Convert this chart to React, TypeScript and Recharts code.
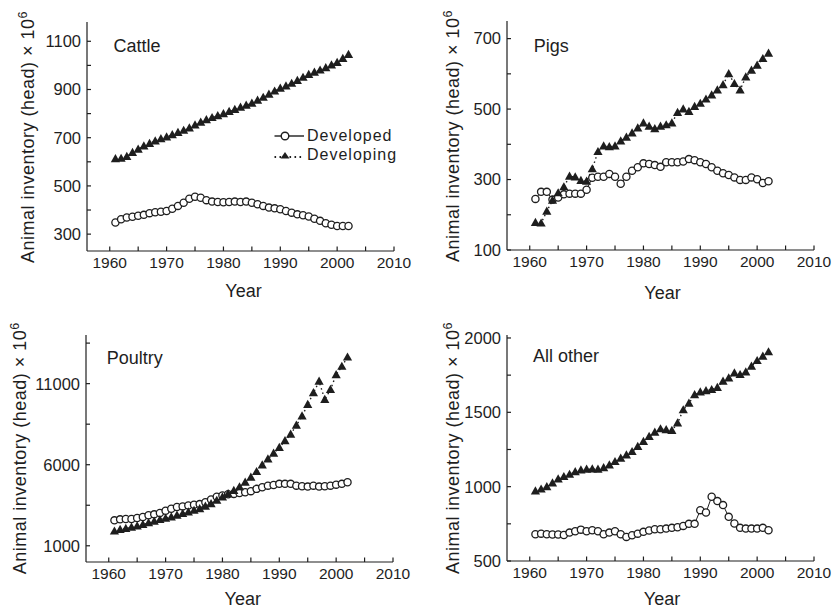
import React from 'react';
import { LineChart, Line, XAxis, YAxis, Label, Legend } from 'recharts';

// ---------- data ----------
const years = [
  1961, 1962, 1963, 1964, 1965, 1966, 1967, 1968, 1969, 1970,
  1971, 1972, 1973, 1974, 1975, 1976, 1977, 1978, 1979, 1980,
  1981, 1982, 1983, 1984, 1985, 1986, 1987, 1988, 1989, 1990,
  1991, 1992, 1993, 1994, 1995, 1996, 1997, 1998, 1999, 2000,
  2001, 2002,
];

const cattleDeveloped = [
  348, 362, 369, 372, 376, 380, 387, 391, 393, 396,
  405, 417, 430, 447, 455, 451, 441, 435, 433, 432,
  433, 435, 433, 435, 430, 424, 417, 410, 407, 403,
  396, 389, 382, 378, 373, 364, 355, 345, 339, 334,
  334, 334,
];
const cattleDeveloping = [
  612, 614, 622, 638, 652, 665, 676, 686, 695, 703,
  712, 721, 730, 740, 752, 764, 774, 783, 791, 799,
  808, 817, 826, 834, 843, 855, 867, 880, 893, 905,
  914, 925, 937, 950, 962, 971, 980, 990, 1001, 1012,
  1028, 1045,
];

const pigsDeveloped = [
  245, 265, 265, 243, 249, 258, 260, 260, 260, 271,
  305, 308, 308, 316, 308, 288, 308, 325, 335, 346,
  344, 341, 336, 349, 349, 349, 351, 358, 355, 349,
  344, 335, 325, 318, 313, 306, 299, 299, 306, 301,
  290, 295,
];
const pigsDeveloping = [
  178, 176, 210, 241, 262, 279, 309, 307, 297, 295,
  330, 379, 395, 393, 395, 409, 420, 432, 446, 460,
  451, 444, 451, 455, 460, 490, 500, 493, 507, 516,
  528, 540, 554, 569, 600, 572, 554, 591, 610, 624,
  643, 658,
];

const poultryDeveloped = [
  2570, 2630, 2650, 2650, 2710, 2775, 2880, 2940, 3020, 3160,
  3285, 3390, 3430, 3490, 3530, 3570, 3690, 3860, 4020, 4100,
  4180, 4200, 4260, 4300, 4370, 4510, 4610, 4710, 4750, 4820,
  4820, 4820, 4710, 4670, 4650, 4710, 4650, 4670, 4710, 4770,
  4820, 4920,
];
const poultryDeveloping = [
  1900, 2000, 2060, 2140, 2220, 2305, 2407, 2510, 2610, 2690,
  2775, 2880, 2980, 3080, 3180, 3285, 3430, 3590, 3795, 4000,
  4200, 4410, 4630, 4920, 5225, 5570, 5980, 6350, 6700, 7060,
  7470, 7880, 8430, 9000, 9710, 10430, 11140, 10020, 10630, 11550,
  12060, 12630,
];

const otherDeveloped = [
  680, 684, 680, 678, 678, 675, 691, 700, 711, 700,
  707, 700, 680, 691, 700, 680, 662, 673, 684, 696,
  705, 714, 714, 718, 723, 727, 736, 750, 750, 842,
  826, 932, 903, 876, 797, 752, 723, 718, 718, 718,
  723, 707,
];
const otherDeveloping = [
  970, 983, 999, 1024, 1051, 1067, 1082, 1100, 1112, 1116,
  1118, 1116, 1127, 1145, 1168, 1190, 1213, 1235, 1269, 1303,
  1337, 1366, 1388, 1382, 1377, 1427, 1516, 1561, 1618, 1636,
  1645, 1652, 1667, 1708, 1730, 1764, 1753, 1771, 1809, 1847,
  1876, 1906,
];

const seriesNames = ['Developed', 'Developing'];
const panelTitles = ['Cattle', 'Pigs', 'Poultry', 'All other'];
const xAxisTitle = 'Year';
const yAxisTitle = 'Animal inventory (head) \u00d7 10';
const yAxisTitleExp = '6';

const xTicks = [1960, 1965, 1970, 1975, 1980, 1985, 1990, 1995, 2000, 2005, 2010];
const xTickLabels = [1960, 1970, 1980, 1990, 2000, 2010];

const cattleYTicks = [300, 400, 500, 600, 700, 800, 900, 1000, 1100];
const cattleYLabels = [300, 500, 700, 900, 1100];
const pigsYTicks = [100, 200, 300, 400, 500, 600, 700];
const pigsYLabels = [100, 300, 500, 700];
const poultryYTicks = [1000, 3500, 6000, 8500, 11000, 13500];
const poultryYLabels = [1000, 6000, 11000];
const otherYTicks = [500, 750, 1000, 1250, 1500, 1750, 2000];
const otherYLabels = [500, 1000, 1500, 2000];

// ---------- layout / style ----------
const FONT = '"Liberation Sans", Arial, Helvetica, sans-serif';
const INK = '#1e1e1e';
const W = 417;
const H = 306;

const build = (dev: number[], devg: number[]) =>
  years.map((y, i) => ({ year: y, developed: dev[i], developing: devg[i] }));

const panels = [
  {
    title: panelTitles[0], left: 0, top: 0,
    plot: { l: 87, t: 22, r: 394, b: 251 },
    yDomain: [230, 1180], yTicks: cattleYTicks, yLabels: cattleYLabels,
    data: build(cattleDeveloped, cattleDeveloping),
    yLabelX: 33.5, yLabelY: 137, titleX: 113.5, titleY: 52, yearX: 243.5, yearY: 297,
    legend: true,
  },
  {
    title: panelTitles[1], left: 417, top: 0,
    plot: { l: 90, t: 21, r: 397, b: 250 },
    yDomain: [100, 750], yTicks: pigsYTicks, yLabels: pigsYLabels,
    data: build(pigsDeveloped, pigsDeveloping),
    yLabelX: 41.7, yLabelY: 136, titleX: 116.7, titleY: 51.5, yearX: 245.5, yearY: 298.5,
    legend: false,
  },
  {
    title: panelTitles[2], left: 0, top: 306,
    plot: { l: 86, t: 29, r: 393, b: 256 },
    yDomain: [0, 14000], yTicks: poultryYTicks, yLabels: poultryYLabels,
    data: build(poultryDeveloped, poultryDeveloping),
    yLabelX: 26, yLabelY: 142.3, titleX: 106.7, titleY: 58, yearX: 242.8, yearY: 299,
    legend: false,
  },
  {
    title: panelTitles[3], left: 417, top: 306,
    plot: { l: 90, t: 29, r: 397, b: 255 },
    yDomain: [500, 2020], yTicks: otherYTicks, yLabels: otherYLabels,
    data: build(otherDeveloped, otherDeveloping),
    yLabelX: 41.7, yLabelY: 142, titleX: 116, titleY: 56.2, yearX: 245, yearY: 299,
    legend: false,
  },
];

const XTick = (props: any) => {
  const { x, y, payload } = props;
  const v = payload.value;
  const show = xTickLabels.includes(v);
  return (
    <g>
      <line x1={x} x2={x} y1={y} y2={y - 4.5} stroke={INK} strokeWidth={1.2} />
      {show && (
        <text x={x} y={y + 6} dy="0.71em" textAnchor="middle" fontSize={15.5} fontFamily={FONT} fill={INK}>
          {v}
        </text>
      )}
    </g>
  );
};

const makeYTick = (labels: number[]) => (props: any) => {
  const { x, y, payload } = props;
  const v = payload.value;
  const show = labels.includes(v);
  return (
    <g>
      <line x1={x} x2={x + 4} y1={y} y2={y} stroke={INK} strokeWidth={1.2} />
      {show && (
        <text x={x - 6} y={y} dy="0.355em" textAnchor="end" fontSize={16.5} fontFamily={FONT} fill={INK}>
          {v}
        </text>
      )}
    </g>
  );
};

const TriangleDot = (props: any) => {
  const { cx, cy, index } = props;
  if (cx == null || cy == null) return null;
  return (
    <polygon
      key={`t-${index}`}
      points={`${cx},${cy - 4.8} ${cx + 4.6},${cy + 3.4} ${cx - 4.6},${cy + 3.4}`}
      fill={INK}
    />
  );
};

const LegendContent = () => (
  <div style={{ fontFamily: FONT, fontSize: 16, letterSpacing: 1, color: INK, lineHeight: '18.5px' }}>
    {seriesNames.map((name, i) => (
      <div key={name} style={{ display: 'flex', alignItems: 'center', height: 18.5 }}>
        <svg width={33} height={14} style={{ display: 'block', flex: 'none' }}>
          {i === 0 ? (
            <>
              <line x1={0.5} x2={30} y1={7} y2={7} stroke={INK} strokeWidth={1.4} />
              <circle cx={11} cy={7} r={3.8} fill="#fff" stroke={INK} strokeWidth={1.4} />
            </>
          ) : (
            <>
              <line x1={0.5} x2={30} y1={9} y2={9} stroke={INK} strokeWidth={1.8} strokeDasharray="1.6 3.4" />
              <polygon points="11,4 15.5,10.6 6.5,10.6" fill={INK} />
            </>
          )}
        </svg>
        <span>{name}</span>
      </div>
    ))}
  </div>
);

const Panel = ({ p }: { p: any }) => {
  const margin = { top: p.plot.t, right: W - p.plot.r, left: 0, bottom: 0 };
  const YTick = makeYTick(p.yLabels);
  return (
    <div style={{ position: 'absolute', left: p.left, top: p.top, width: W, height: H }}>
      <LineChart width={W} height={H} data={p.data} margin={margin}>
        <XAxis
          dataKey="year"
          type="number"
          domain={[1956, 2010]}
          ticks={xTicks}
          interval={0}
          allowDataOverflow
          height={H - p.plot.b}
          tickSize={0}
          tickMargin={0}
          tickLine={false}
          tick={<XTick />}
          axisLine={{ stroke: INK, strokeWidth: 1.2 }}
        >
          <Label
            content={() => (
              <text x={p.yearX} y={p.yearY} textAnchor="middle" fontSize={18} fontFamily={FONT} fill={INK}>
                {xAxisTitle}
              </text>
            )}
          />
        </XAxis>
        <YAxis
          type="number"
          domain={p.yDomain}
          ticks={p.yTicks}
          interval={0}
          allowDataOverflow
          width={p.plot.l}
          tickSize={0}
          tickMargin={0}
          tickLine={false}
          tick={<YTick />}
          axisLine={{ stroke: INK, strokeWidth: 1.2 }}
        >
          <Label
            content={() => (
              <g>
                <text
                  x={p.yLabelX}
                  y={p.yLabelY}
                  textAnchor="middle"
                  fontSize={18}
                  letterSpacing={0.5}
                  fontFamily={FONT}
                  fill={INK}
                  transform={`rotate(-90, ${p.yLabelX}, ${p.yLabelY})`}
                >
                  {yAxisTitle}
                  <tspan dy={-7} fontSize={12.5}>{yAxisTitleExp}</tspan>
                </text>
                <text x={p.titleX} y={p.titleY} fontSize={18} fontFamily={FONT} fill={INK}>
                  {p.title}
                </text>
              </g>
            )}
          />
        </YAxis>
        {p.legend && (
          <Legend
            layout="horizontal"
            verticalAlign="middle"
            align="center"
            content={<LegendContent />}
            wrapperStyle={{ position: 'absolute', left: 274, top: 127, width: 140, height: 37 }}
          />
        )}
        <Line
          dataKey="developed"
          name={seriesNames[0]}
          stroke={INK}
          strokeWidth={1}
          dot={{ r: 3.6, fill: '#fff', stroke: INK, strokeWidth: 1.3 }}
          isAnimationActive={false}
        />
        <Line
          dataKey="developing"
          name={seriesNames[1]}
          stroke={INK}
          strokeWidth={1.4}
          strokeDasharray="1.5 3"
          dot={<TriangleDot />}
          isAnimationActive={false}
        />
      </LineChart>
    </div>
  );
};

export default function App() {
  return (
    <div
      style={{
        position: 'absolute',
        left: 0,
        top: 0,
        width: 834,
        height: 613,
        background: '#fff',
        overflow: 'hidden',
      }}
    >
      {panels.map((p) => (
        <Panel key={p.title} p={p} />
      ))}
    </div>
  );
}
